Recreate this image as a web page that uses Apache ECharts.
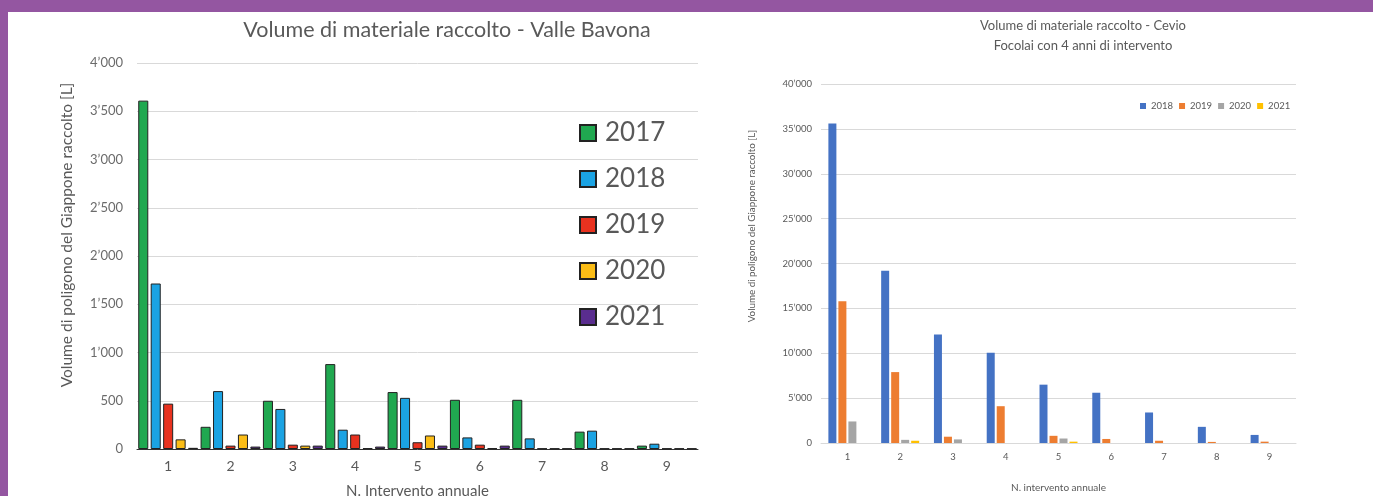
<!DOCTYPE html>
<html lang="it">
<head>
	<meta charset="UTF-8">
	<title>Volume di materiale raccolto</title>
	<style>
		body { margin: 0; background: #9456a1; width: 1373px; height: 496px; overflow: hidden; }
		#main { position: absolute; left: 8px; top: 12px; width: 1365px; height: 484px; background: #fff; }
	</style>
</head>
<body>
	<div id="main"></div>

	<script src="https://cdn.jsdelivr.net/npm/echarts@6/dist/echarts.min.js"></script>
	<script type="text/javascript">
    // categorie (n. intervento)
    var interventi = ['1', '2', '3', '4', '5', '6', '7', '8', '9'];

    // Valle Bavona
    var bavona2017 = [3610, 230, 500, 880, 590, 510, 510, 180, 35];
    var bavona2018 = [1715, 600, 415, 200, 530, 120, 110, 190, 55];
    var bavona2019 = [470, 35, 45, 150, 70, 45, 5, 5, 5];
    var bavona2020 = [100, 150, 35, 8, 140, 8, 5, 5, 5];
    var bavona2021 = [12, 25, 35, 25, 35, 35, 5, 5, 5];

    // Cevio
    var cevio2018 = [35600, 19200, 12100, 10050, 6500, 5600, 3400, 1800, 900];
    var cevio2019 = [15800, 7900, 700, 4100, 800, 450, 250, 120, 150];
    var cevio2020 = [2400, 350, 400, 0, 500, 0, 0, 0, 0];
    var cevio2021 = [0, 250, 0, 0, 150, 0, 0, 0, 0];

    var txt = '#595959';
    var font = 'Lato';

    function migliaia(v) {
        if (v < 1000) return String(v);
        return Math.floor(v / 1000) + '\u2019' + String(v % 1000).padStart(3, '0');
    }

    var myChart = echarts.init(document.getElementById('main'));

    function barraSx(nome, dati, colore) {
        return {
            name: nome, type: 'bar', xAxisIndex: 0, yAxisIndex: 0,
            data: dati, barGap: '24%', barCategoryGap: '4%',
            itemStyle: { color: colore, borderColor: '#222', borderWidth: 1 }
        };
    }
    function barraDx(nome, dati, colore) {
        return {
            name: nome, type: 'bar', xAxisIndex: 1, yAxisIndex: 1,
            data: dati, barGap: '25%', barCategoryGap: '28%',
            itemStyle: { color: colore }
        };
    }

    var option = {
        animation: false,
        textStyle: { fontFamily: font },
        title: [{
            text: 'Volume di materiale raccolto - Valle Bavona',
            left: 434, top: 2, textAlign: 'center',
            textStyle: { fontFamily: font, fontSize: 21.5, fontWeight: 'normal', color: txt }
        }, {
            text: 'Volume di materiale raccolto - Cevio\nFocolai con 4 anni di intervento',
            left: 1070, top: -1, textAlign: 'center',
            textStyle: { fontFamily: font, fontSize: 13, lineHeight: 20, fontWeight: 'normal', color: txt }
        }],
        legend: [{
            data: ['2017', '2018', '2019', '2020', '2021'],
            orient: 'vertical', left: 571, top: 106, padding: 0, icon: 'rect',
            itemWidth: 16, itemHeight: 16, itemGap: 16,
            textStyle: { fontFamily: font, fontSize: 26, lineHeight: 30, color: txt, padding: [0, 0, 0, 4] }
        }, {
            data: ['2018 ', '2019 ', '2020 ', '2021 '],
            formatter: function (n) { return n.trim(); },
            orient: 'horizontal', left: 1132, top: 89, padding: 0, icon: 'rect',
            itemWidth: 6, itemHeight: 6, itemGap: 6,
            textStyle: { fontFamily: font, fontSize: 9.5, color: txt }
        }],
        grid: [
            { left: 129, top: 51, width: 561, height: 386, outerBoundsMode: 'none' },
            { left: 813, top: 72, width: 475, height: 359, outerBoundsMode: 'none' }
        ],
        xAxis: [{
            type: 'category', gridIndex: 0, data: interventi,
            name: 'N. Intervento annuale', nameLocation: 'middle', nameGap: 35,
            nameTextStyle: { fontFamily: font, fontSize: 15, color: txt },
            axisTick: { show: false },
            axisLine: { lineStyle: { color: '#333', width: 1 } },
            axisLabel: { fontFamily: font, fontSize: 14, color: txt, margin: 10 }
        }, {
            type: 'category', gridIndex: 1, data: interventi,
            name: 'N. intervento annuale', nameLocation: 'middle', nameGap: 40,
            nameTextStyle: { fontFamily: font, fontSize: 10, color: txt },
            axisTick: { show: false },
            axisLine: { lineStyle: { color: '#d9d9d9', width: 1 } },
            axisLabel: { fontFamily: font, fontSize: 9.5, color: txt, margin: 9 }
        }],
        yAxis: [{
            type: 'value', gridIndex: 0, min: 0, max: 4000, interval: 500,
            axisLine: { show: false }, axisTick: { show: false },
            splitLine: { lineStyle: { color: '#d9d9d9' } },
            axisLabel: { fontFamily: font, fontSize: 13, color: '#6b6b6b', margin: 14, formatter: migliaia }
        }, {
            type: 'value', gridIndex: 1, min: 0, max: 40000, interval: 5000,
            axisLine: { show: false }, axisTick: { show: false },
            splitLine: { lineStyle: { color: '#d9d9d9' } },
            axisLabel: { fontFamily: font, fontSize: 9.5, color: txt, margin: 9, formatter: migliaia }
        }],
        graphic: [{
            type: 'text', x: 59, y: 223, rotation: Math.PI / 2,
            style: { text: 'Volume di poligono del Giappone raccolto [L]', fontFamily: font, fontSize: 15.5,
                     fill: txt, align: 'center', verticalAlign: 'middle' }
        }, {
            type: 'text', x: 744, y: 214, rotation: Math.PI / 2,
            style: { text: 'Volume di poligono del Giappone raccolto [L]', fontFamily: font, fontSize: 9.8,
                     fill: txt, align: 'center', verticalAlign: 'middle' }
        }],
        series: [
            barraSx('2017', bavona2017, '#20a850'),
            barraSx('2018', bavona2018, '#1ba3e3'),
            barraSx('2019', bavona2019, '#e8321f'),
            barraSx('2020', bavona2020, '#fbbd16'),
            barraSx('2021', bavona2021, '#5a2d8f'),
            barraDx('2018 ', cevio2018, '#4472c4'),
            barraDx('2019 ', cevio2019, '#ed7d31'),
            barraDx('2020 ', cevio2020, '#a5a5a5'),
            barraDx('2021 ', cevio2021, '#ffc000')
        ]
    };
    myChart.setOption(option);
	</script>

</body>
</html>
